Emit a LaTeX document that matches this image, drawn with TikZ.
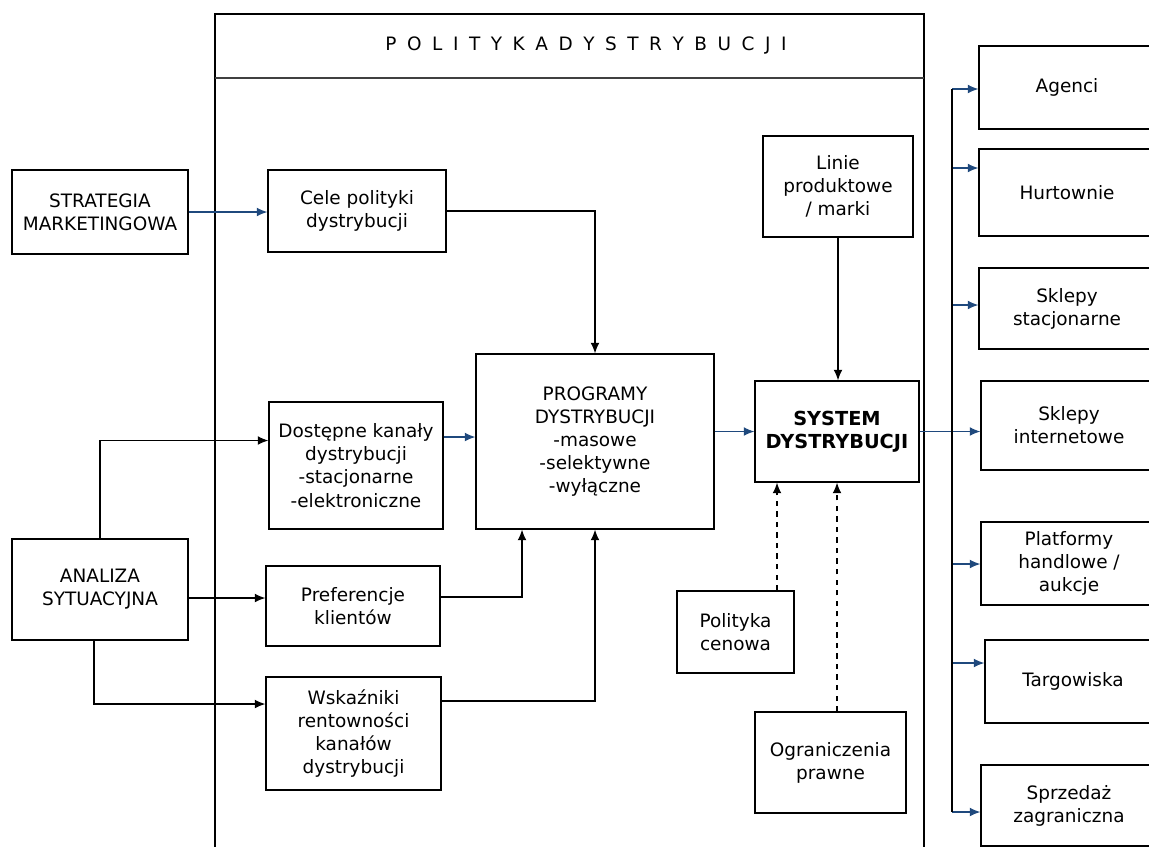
\documentclass[tikz,border=0pt]{standalone}
\usepackage{fontspec}
\usetikzlibrary{arrows.meta}
\setmainfont{DejaVu Sans}
\newfontfamily\titlefont[WordSpace=1.8]{DejaVu Sans}
\definecolor{flowblue}{RGB}{31,73,125}
\begin{document}
\begin{tikzpicture}[>={Latex[length=6pt,width=5pt]}, x=0.02cm, y=-0.02cm,
  box/.style={draw, line width=0.8pt, inner sep=0pt, align=center,
    font=\fontsize{10.5}{13.2}\selectfont},
  link/.style={line width=0.6pt, ->},
  bluelink/.style={link, flowblue},
  dashlink/.style={link, dashed}]
\useasboundingbox (0,0) rectangle (1149,846);
\clip (0,0) rectangle (1149,846);
% frame of the policy
\draw[line width=1.3pt] (215,860)--(215,14)--(924,14)--(924,860);
\draw[line width=0.6pt, black!75] (215,78)--(924,78);
\node (title) at (586,45) {\titlefont\fontsize{10.5}{13}\selectfont P O L I T Y K A D Y S T R Y B U C J I};
% left column
\node[box, minimum width=3.52cm, minimum height=1.68cm] (strat) at (100,212) {STRATEGIA\\MARKETINGOWA};
\node[box, minimum width=3.52cm, minimum height=2.02cm] (anal) at (100,589.5) {ANALIZA\\SYTUACYJNA};
% inside the frame
\node[box, minimum width=3.56cm, minimum height=1.64cm] (cele) at (357,211) {Cele polityki\\dystrybucji};
\node[box, minimum width=3.48cm, minimum height=2.54cm] (dost) at (356,465.5) {Dostępne kanały\\dystrybucji\\-stacjonarne\\-elektroniczne};
\node[box, minimum width=3.48cm, minimum height=1.6cm] (pref) at (353,606) {Preferencje\\klientów};
\node[box, minimum width=3.5cm, minimum height=2.26cm] (wsk) at (353.5,733.5) {Wskaźniki\\rentowności\\kanałów\\dystrybucji};
\node[box, minimum width=4.76cm, minimum height=3.5cm] (prog) at (595,441.5) {PROGRAMY\\DYSTRYBUCJI\\-masowe\\-selektywne\\-wyłączne};
\node[box, minimum width=3cm, minimum height=2.02cm] (linie) at (838,186.5) {Linie\\produktowe\\/ marki};
\node[box, minimum width=3.28cm, minimum height=2.02cm, font=\fontsize{11}{13.2}\selectfont\bfseries] (sys) at (837,431.5) {SYSTEM\\DYSTRYBUCJI};
\node[box, minimum width=2.34cm, minimum height=1.64cm] (cen) at (735.5,632) {Polityka\\cenowa};
\node[box, minimum width=3.02cm, minimum height=2.02cm] (ogr) at (830.5,762.5) {Ograniczenia\\prawne};
% outlets on the right
\node[box, minimum width=3.52cm, minimum height=1.66cm] (agenci) at (1067,87.5) {Agenci};
\node[box, minimum width=3.52cm, minimum height=1.74cm] (hurt) at (1067,192.5) {Hurtownie};
\node[box, minimum width=3.52cm, minimum height=1.62cm] (stac) at (1067,308.5) {Sklepy\\stacjonarne};
\node[box, minimum width=3.52cm, minimum height=1.78cm] (inter) at (1069,425.5) {Sklepy\\internetowe};
\node[box, minimum width=3.52cm, minimum height=1.66cm] (platf) at (1069,563.5) {Platformy\\handlowe /\\aukcje};
\node[box, minimum width=3.52cm, minimum height=1.66cm] (targ) at (1073,681.5) {Targowiska};
\node[box, minimum width=3.52cm, minimum height=1.62cm] (sprz) at (1069,805.5) {Sprzedaż\\zagraniczna};
% connectors
\draw[bluelink] (strat.east) -- (strat.east -| cele.west);
\draw[link] (cele.east) -| (prog.north);
\draw[bluelink] ([yshift=0.57cm]dost.east) -- ([yshift=0.57cm]dost.east -| prog.west);
\draw[link] (anal.north) |- ([yshift=0.5cm]dost.west);
\draw[link] ([yshift=-0.17cm]anal.east) -- ([yshift=-0.17cm]anal.east -| pref.west);
\draw[link] ([xshift=-0.12cm]anal.south) |- ([yshift=0.59cm]wsk.west);
\draw[link] ([yshift=0.18cm]pref.east) -| ([xshift=-1.46cm]prog.south);
\draw[link] ([yshift=0.65cm]wsk.east) -| (prog.south);
\draw[bluelink] (prog.east |- sys.west) -- (sys.west);
\draw[link] (linie.south) -- (linie.south |- sys.north);
\draw[dashlink] ([xshift=0.83cm]cen.north) -- ([xshift=0.83cm]cen.north |- sys.south);
\draw[dashlink] (ogr.north -| sys.south) -- (sys.south);
\draw[bluelink] (sys.east) -- (sys.east -| inter.west);
% bus to the outlets
\foreach \b/\y in {agenci/89,hurt/168,stac/305,platf/564,targ/663,sprz/812}{
  \coordinate (tap-\b) at (952,\y);
  \draw[bluelink] (tap-\b) -- (tap-\b -| \b.west);
}
\draw[line width=0.6pt] (tap-agenci) -- (tap-sprz);
\end{tikzpicture}
\end{document}
